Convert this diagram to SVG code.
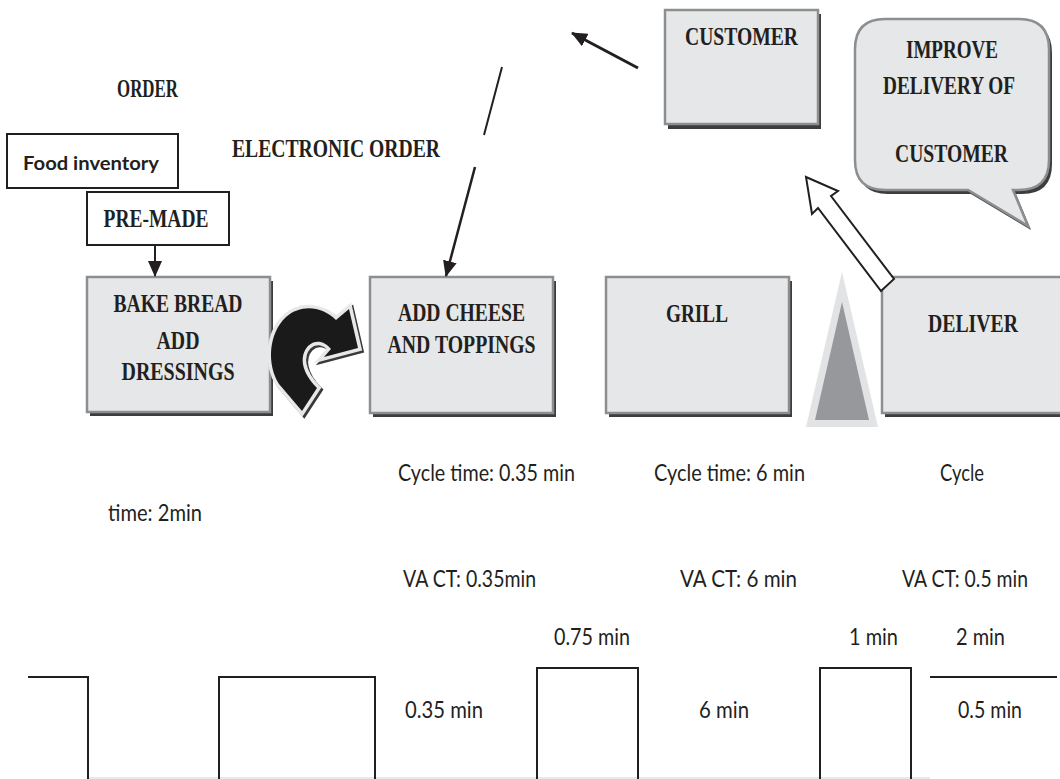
<svg xmlns="http://www.w3.org/2000/svg" width="1060" height="779" viewBox="0 0 1060 779">
<style>
.t{font-family:"Liberation Serif","Times New Roman",serif;font-weight:bold;font-size:26px;fill:#231f20;text-anchor:middle}
.s{font-family:Lato,"Open Sans","Liberation Sans",sans-serif;font-size:24px;fill:#231f20}
.fb{font-family:Lato,"Open Sans","Liberation Sans",sans-serif;font-weight:bold;font-size:19px;fill:#231f20;text-anchor:middle}
.box{fill:#e6e7e8;stroke:#8d8e90;stroke-width:2.5}
.sh{fill:#3d3d3f}
.plain{fill:#fff;stroke:#231f20;stroke-width:2}
.ln{stroke:#231f20;fill:none}
</style>
<defs>
<marker id="ah" markerUnits="userSpaceOnUse" markerWidth="16" markerHeight="14" viewBox="0 0 16 14" refX="15" refY="7" orient="auto">
<path d="M0,0 L16,7 L0,14 z" fill="#231f20"/>
</marker>
<path id="curl" d="M302,411 L279,384 C267,365 268,334 286,317 C301,304 322,306 336,320 L349,309 L358,348 L324,357 L331,349 C325,341 315,339 308,346 C299,356 301,372 317,388 Z"/>
</defs>
<rect width="1060" height="779" fill="#fff"/>

<g id="food-inventory">
<rect class="plain" x="7" y="134" width="171" height="54"/>
<text class="fb" x="91" y="170" textLength="136" lengthAdjust="spacingAndGlyphs">Food inventory</text>
</g>
<g id="pre-made">
<rect class="plain" x="87" y="192" width="142" height="53"/>
<text class="t" x="156" y="227" textLength="105" lengthAdjust="spacingAndGlyphs">PRE-MADE</text>
</g>
<g id="order-label">
<text class="t" x="147.5" y="97" textLength="61" lengthAdjust="spacingAndGlyphs">ORDER</text>
</g>
<g id="electronic-order-label">
<text class="t" x="336" y="157" textLength="208" lengthAdjust="spacingAndGlyphs">ELECTRONIC ORDER</text>
</g>

<g id="bake-bread">
<rect class="sh" x="90" y="281" width="183" height="135"/>
<rect class="box" x="87" y="277" width="183" height="135"/>
<text class="t" x="178" y="312" textLength="129" lengthAdjust="spacingAndGlyphs">BAKE BREAD</text>
<text class="t" x="178" y="349" textLength="43" lengthAdjust="spacingAndGlyphs">ADD</text>
<text class="t" x="178" y="380" textLength="113" lengthAdjust="spacingAndGlyphs">DRESSINGS</text>
</g>
<g id="add-cheese">
<rect class="sh" x="373" y="281" width="183" height="136"/>
<rect class="box" x="370" y="277" width="183" height="136"/>
<text class="t" x="461.5" y="321" textLength="127" lengthAdjust="spacingAndGlyphs">ADD CHEESE</text>
<text class="t" x="461.5" y="353" textLength="148" lengthAdjust="spacingAndGlyphs">AND TOPPINGS</text>
</g>
<g id="grill">
<rect class="sh" x="609" y="281" width="183" height="136"/>
<rect class="box" x="606" y="277" width="183" height="136"/>
<text class="t" x="697" y="322" textLength="62" lengthAdjust="spacingAndGlyphs">GRILL</text>
</g>
<g id="deliver">
<rect class="sh" x="885" y="281" width="183" height="136"/>
<rect class="box" x="882" y="277" width="183" height="136"/>
<text class="t" x="973" y="332" textLength="90" lengthAdjust="spacingAndGlyphs">DELIVER</text>
</g>
<g id="customer">
<rect class="sh" x="668" y="14" width="153" height="115"/>
<rect class="box" x="665" y="10" width="153" height="114"/>
<text class="t" x="741.5" y="45" textLength="113" lengthAdjust="spacingAndGlyphs">CUSTOMER</text>
</g>
<g id="callout">
<path class="sh" transform="translate(3,4)" d="M885,19 H1019 Q1049,19 1049,49 V160 Q1049,190 1019,190 H1013 L1028,226 L968,190 H885 Q855,190 855,160 V49 Q855,19 885,19 Z"/>
<path class="box" d="M885,19 H1019 Q1049,19 1049,49 V160 Q1049,190 1019,190 H1013 L1028,226 L968,190 H885 Q855,190 855,160 V49 Q855,19 885,19 Z"/>
<text class="t" x="952" y="58" textLength="92" lengthAdjust="spacingAndGlyphs">IMPROVE</text>
<text class="t" x="949" y="94" textLength="132" lengthAdjust="spacingAndGlyphs">DELIVERY OF</text>
<text class="t" x="951.5" y="162" textLength="113" lengthAdjust="spacingAndGlyphs">CUSTOMER</text>
</g>
<g id="inventory-triangle">
<polygon points="842,272 806,427 878,427" fill="#e2e3e5"/>
<polygon points="842,302 815,420 869,420" fill="#97989c"/>
</g>

<g id="connectors">
<line class="ln" x1="155" y1="246" x2="155" y2="276" stroke-width="2" marker-end="url(#ah)"/>
<line class="ln" x1="502" y1="67" x2="484" y2="135" stroke-width="2"/>
<line class="ln" x1="475" y1="167" x2="446" y2="276" stroke-width="2.5" marker-end="url(#ah)"/>
<line class="ln" x1="638" y1="68" x2="572" y2="33" stroke-width="3" marker-end="url(#ah)"/>
<polygon points="806,177 838,191 831,196 894,279 881,291 818,208 812,214" fill="#fff" stroke="#231f20" stroke-width="2" stroke-linejoin="miter"/>
<use href="#curl" transform="translate(2,2)" fill="#3a3a3a" stroke="#3a3a3a" stroke-width="7" stroke-linejoin="miter"/>
<use href="#curl" fill="#f4f4f4" stroke="#e8e8e8" stroke-width="7" stroke-linejoin="miter"/>
<use href="#curl" fill="#1a1a1a"/>
</g>

<g id="timeline">
<line x1="88" y1="778" x2="930" y2="778" stroke="#e0e0e0" stroke-width="1.5"/>
<path class="ln" stroke-width="2" d="M28,677 H88 V779 M219,779 V677 H375 V779 M537,779 V668 H638 V779 M820,779 V668 H911 V779 M930,677 H1057"/>
</g>

<g id="metrics">
<text class="s" x="398" y="481" textLength="177" lengthAdjust="spacingAndGlyphs">Cycle time: 0.35 min</text>
<text class="s" x="654" y="481" textLength="151" lengthAdjust="spacingAndGlyphs">Cycle time: 6 min</text>
<text class="s" x="940" y="481" textLength="44" lengthAdjust="spacingAndGlyphs">Cycle</text>
<text class="s" x="108" y="521" textLength="94" lengthAdjust="spacingAndGlyphs">time: 2min</text>
<text class="s" x="403" y="587" textLength="133" lengthAdjust="spacingAndGlyphs">VA CT: 0.35min</text>
<text class="s" x="680" y="587" textLength="117" lengthAdjust="spacingAndGlyphs">VA CT: 6 min</text>
<text class="s" x="902" y="587" textLength="126" lengthAdjust="spacingAndGlyphs">VA CT: 0.5 min</text>
<text class="s" x="554" y="645" textLength="76" lengthAdjust="spacingAndGlyphs">0.75 min</text>
<text class="s" x="849" y="645" textLength="49" lengthAdjust="spacingAndGlyphs">1 min</text>
<text class="s" x="956" y="645" textLength="49" lengthAdjust="spacingAndGlyphs">2 min</text>
<text class="s" x="405" y="718" textLength="78" lengthAdjust="spacingAndGlyphs">0.35 min</text>
<text class="s" x="699" y="718" textLength="50" lengthAdjust="spacingAndGlyphs">6 min</text>
<text class="s" x="958" y="718" textLength="64" lengthAdjust="spacingAndGlyphs">0.5 min</text>
</g>
</svg>
